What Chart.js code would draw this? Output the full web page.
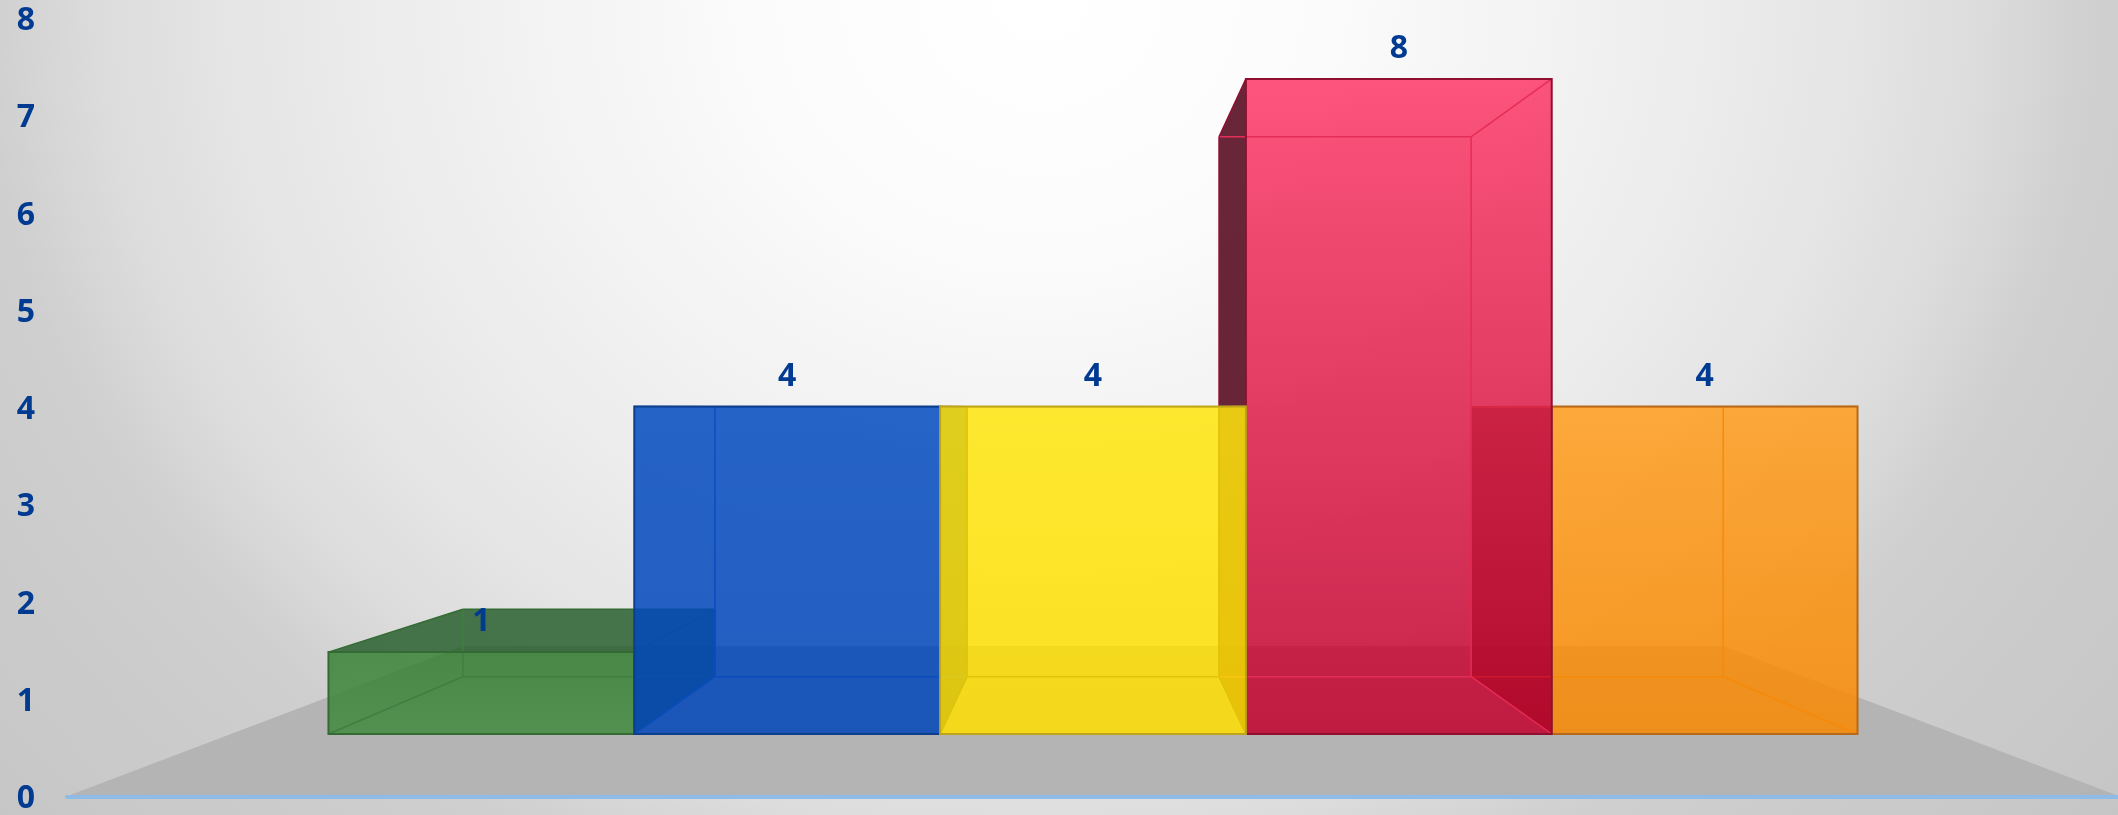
<!DOCTYPE html>
<html>
<head>
<meta charset="utf-8">
<title>Bars</title>
<script src="https://cdn.jsdelivr.net/npm/chart.js@4"></script>
<style>
    html, body { margin: 0; padding: 0; width: 2118px; height: 815px; overflow: hidden; }
    body { background: radial-gradient(ellipse 1430px 1274px at 1040px 0, #ffffff 0%, #fcfcfc 18%, #f4f4f4 33%, #ededed 45%, #e5e5e5 57%, #dcdcdc 66%, #cfcfcf 74%, #c5c5c5 100%); }
    canvas { display: block; }
</style>
</head>
<body>
<canvas id="chart" width="2118" height="815"></canvas>
<script>
const categories = ['A', 'B', 'C', 'D', 'E'];
const seriesValues = [1, 4, 4, 8, 4];
const tickLabels = [0, 1, 2, 3, 4, 5, 6, 7, 8];

// per-bar styling: [top, bottom] of the front face, outer wall, outline, inner line
const frontColors = [
    ['#378035', '#408a3e'],
    ['#024ac0', '#0046b8'],
    ['#ffe60c', '#ffde00'],
    ['#fc3766', '#c1002d'],
    ['#ff9c1c', '#f98800']
];
const wallColors = ['#2a602f', '#02246a', '#6a5a00', '#4f0016', '#412900'];
const edgeColors = ['#336b33', '#0e3f8c', '#bfa51c', '#8f0f30', '#b5691c'];
const innerColors = ['#3f7f40', '#0a4dbe', '#e0c30a', '#e62c58', '#f58a0a'];

const textColor = '#003a91';
const fontSpec = { family: "'Open Sans'", size: 32, weight: 'bold' };

// the boxes stand on a floor seen in perspective, each depth has its own scale and ground line
const nearPlane = { scale: 1, ground: 797 };
const frontPlane = { scale: 0.842, ground: 734 };
const backPlane = { scale: 0.694, ground: 676.7 };
const floorBack = { scale: 0.613, ground: 646 };
const floorOverhang = 120;
const faceAlpha = 0.85;

function rgba(hex, a) {
    const n = parseInt(hex.slice(1), 16);
    return `rgba(${n >> 16}, ${(n >> 8) & 255}, ${n & 255}, ${a})`;
}

function poly(ctx, pts, fill, stroke, lineWidth) {
    ctx.beginPath();
    pts.forEach((p, i) => i ? ctx.lineTo(p[0], p[1]) : ctx.moveTo(p[0], p[1]));
    ctx.closePath();
    if (fill) { ctx.fillStyle = fill; ctx.fill(); }
    if (stroke) { ctx.strokeStyle = stroke; ctx.lineWidth = lineWidth; ctx.lineJoin = 'miter'; ctx.stroke(); }
}

function line(ctx, a, b, color, width) {
    ctx.beginPath();
    ctx.moveTo(a[0], a[1]);
    ctx.lineTo(b[0], b[1]);
    ctx.strokeStyle = color;
    ctx.lineWidth = width;
    ctx.stroke();
}

// scale pixel -> pixel on a given depth plane
function projector(chart, plane) {
    const area = chart.chartArea;
    const cx = (area.left + area.right) / 2;
    return (x, y) => [cx + (x - cx) * plane.scale, plane.ground - (area.bottom - y) * plane.scale];
}

const floorPlugin = {
    id: 'floor',
    beforeDatasetsDraw(chart) {
        const { ctx, chartArea: area } = chart;
        const near = projector(chart, nearPlane);
        const far = projector(chart, floorBack);
        const left = area.left - floorOverhang, right = area.right + floorOverhang;
        const a = near(left, area.bottom), b = near(right, area.bottom);
        poly(ctx, [a, b, far(right, area.bottom), far(left, area.bottom)], '#b4b4b4');

        // baseline runs along the near edge of the floor
        ctx.save();
        ctx.lineCap = 'round';
        line(ctx, [a[0] + 2, a[1]], b, '#8fbce6', 4);
        ctx.restore();
    }
};

const boxPlugin = {
    id: 'boxes',
    beforeDatasetDraw(chart, args) {
        const { ctx, chartArea: area } = chart;
        const cx = (area.left + area.right) / 2;
        const front = projector(chart, frontPlane);
        const back = projector(chart, backPlane);
        const meta = chart.getDatasetMeta(args.index);

        // outermost boxes first, the ones near the middle overlap them
        const order = meta.data.map((bar, i) => i)
            .sort((a, b) => Math.abs(meta.data[b].x - cx) - Math.abs(meta.data[a].x - cx));

        order.forEach(i => {
            const bar = meta.data[i];
            const l = bar.x - bar.width / 2, r = bar.x + bar.width / 2;
            const fTL = front(l, bar.y), fTR = front(r, bar.y), fBL = front(l, bar.base), fBR = front(r, bar.base);
            const bTL = back(l, bar.y), bTR = back(r, bar.y), bBL = back(l, bar.base), bBR = back(r, bar.base);

            const wall = rgba(wallColors[i], faceAlpha);
            const edge = edgeColors[i];
            const inner = innerColors[i];

            // a wall that sticks out from behind the front face is seen from outside, so it is dark
            const leftOut = bTL[0] < fTL[0], rightOut = bTR[0] > fTR[0], topOut = bTL[1] < fTL[1] - 1;
            if (leftOut) poly(ctx, [fTL, bTL, bBL, fBL], wall);
            if (rightOut) poly(ctx, [fTR, bTR, bBR, fBR], wall);
            if (topOut) poly(ctx, [fTL, fTR, bTR, bTL], wall);

            const grad = ctx.createLinearGradient(0, fTL[1], 0, fBL[1]);
            grad.addColorStop(0, rgba(frontColors[i][0], faceAlpha));
            grad.addColorStop(1, rgba(frontColors[i][1], faceAlpha));
            poly(ctx, [fTL, fTR, fBR, fBL], grad);

            // inner wireframe, back rectangle and the four depth edges
            const lw = 1.5;
            line(ctx, bTL, bTR, topOut ? edge : inner, lw);
            line(ctx, bTL, bBL, leftOut ? edge : inner, lw);
            line(ctx, bTR, bBR, rightOut ? edge : inner, lw);
            line(ctx, bBL, bBR, inner, lw);
            line(ctx, fTL, bTL, leftOut || topOut ? edge : inner, lw);
            line(ctx, fTR, bTR, rightOut || topOut ? edge : inner, lw);
            line(ctx, fBL, bBL, leftOut ? edge : inner, lw);
            line(ctx, fBR, bBR, rightOut ? edge : inner, lw);

            poly(ctx, [fTL, fTR, fBR, fBL], null, edge, 2);
        });
        // the library's own flat bars are replaced by the boxes
        return false;
    },
    afterDatasetsDraw(chart) {
        const { ctx } = chart;
        const front = projector(chart, frontPlane);
        const meta = chart.getDatasetMeta(0);
        ctx.save();
        ctx.font = `${fontSpec.weight} ${fontSpec.size}px ${fontSpec.family}`;
        ctx.fillStyle = textColor;
        ctx.textAlign = 'center';
        ctx.textBaseline = 'middle';
        meta.data.forEach((bar, i) => {
            const p = front(bar.x, bar.y);
            ctx.fillText(String(seriesValues[i]), p[0], p[1] - 30);
        });
        ctx.restore();
    }
};

new Chart(document.getElementById('chart'), {
    type: 'bar',
    data: {
        labels: categories,
        datasets: [{
            data: seriesValues,
            backgroundColor: 'transparent',
            barPercentage: 1,
            categoryPercentage: 1
        }]
    },
    plugins: [floorPlugin, boxPlugin],
    options: {
        responsive: false,
        animation: false,
        layout: { padding: { top: 21, bottom: 16, left: 0, right: 117 } },
        plugins: { legend: { display: false }, title: { display: false }, tooltip: { enabled: false } },
        scales: {
            x: {
                ticks: { display: false },
                grid: { display: false, drawTicks: false },
                border: { display: false },
                afterFit(scale) {
                    scale.height = 0;
                    scale.paddingLeft = 0;
                    scale.paddingRight = 0;
                }
            },
            y: {
                min: 0,
                max: tickLabels[tickLabels.length - 1],
                afterBuildTicks(scale) { scale.ticks = tickLabels.map(v => ({ value: v })); },
                ticks: { color: textColor, font: fontSpec, padding: 150, autoSkip: false },
                grid: { display: false, drawTicks: false },
                border: { display: false },
                afterFit(scale) {
                    scale.width = 185;
                    scale.paddingTop = 0;
                    scale.paddingBottom = 0;
                }
            }
        }
    }
});
</script>
</body>
</html>
